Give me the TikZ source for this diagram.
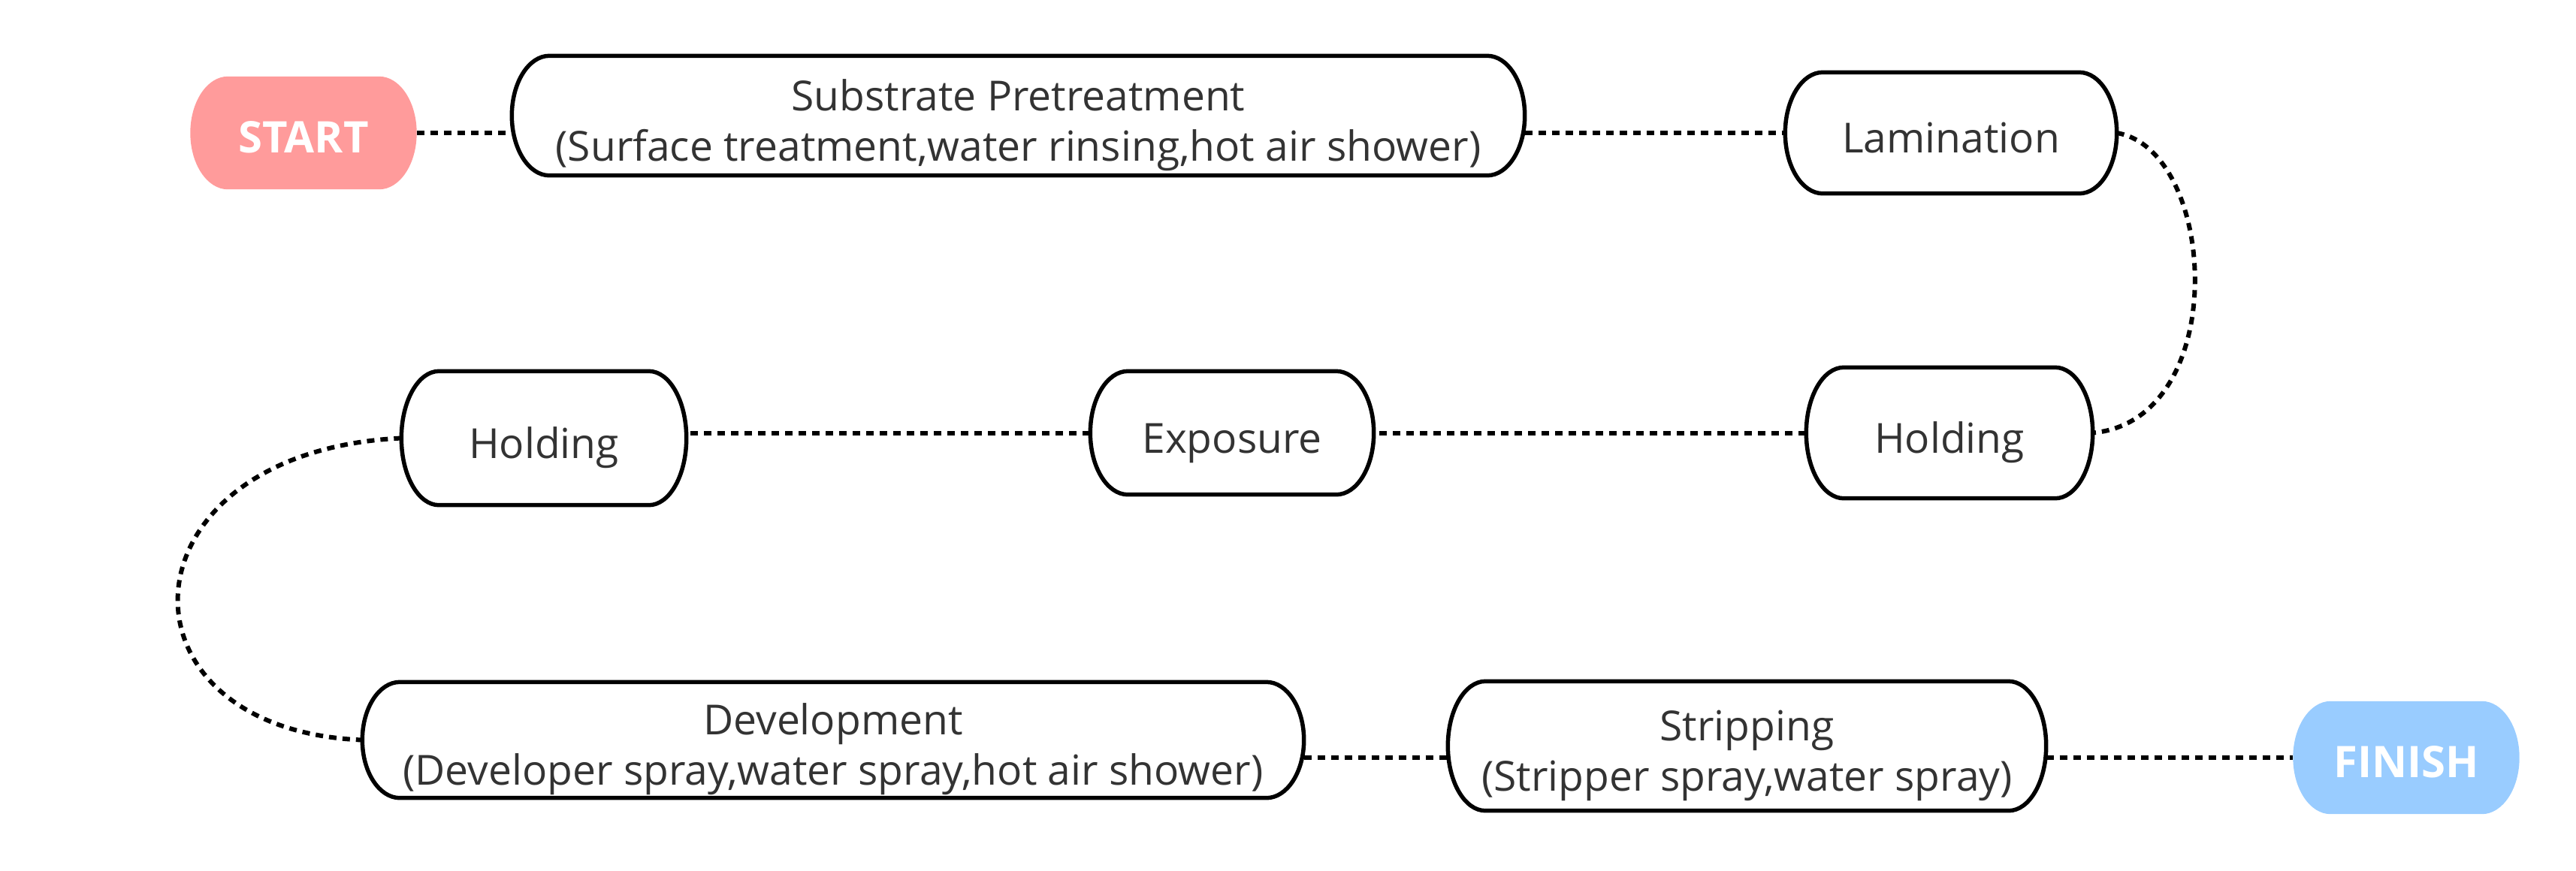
\documentclass[tikz,border=0pt]{standalone}
\usepackage{fontspec}
\setmainfont{Open Sans}
\usepackage{xcolor}
\usetikzlibrary{calc,backgrounds}

\definecolor{startred}{RGB}{255,155,155}
\definecolor{finishblue}{RGB}{153,204,255}

% capsule outline round a node: flat top and bottom, bulging ends
\newcommand{\capsule}[2]{%
  \path[#1] ([xshift=0.5cm]#2.north west) -- ([xshift=-0.5cm]#2.north east)
    .. controls ([xshift=-0.224cm]#2.north east) and ($(#2.east)!0.552!(#2.north east)$) .. (#2.east)
    .. controls ($(#2.east)!0.552!(#2.south east)$) and ([xshift=-0.224cm]#2.south east) .. ([xshift=-0.5cm]#2.south east)
    -- ([xshift=0.5cm]#2.south west)
    .. controls ([xshift=0.224cm]#2.south west) and ($(#2.west)!0.552!(#2.south west)$) .. (#2.west)
    .. controls ($(#2.west)!0.552!(#2.north west)$) and ([xshift=0.224cm]#2.north west) .. cycle;}

\begin{document}
\begin{tikzpicture}[
    stage/.style={inner sep=0pt, align=center, text=black!80,
                  text height=0.53cm, text depth=0cm,
                  font=\fontsize{15.7}{19}\selectfont},
    twoline/.style={text height=1.2cm},
    term/.style={inner sep=0pt, minimum height=1.49cm, minimum width=3cm, text=white,
                 text height=0.52cm, text depth=0cm,
                 font=\fontsize{16.5}{20}\selectfont\bfseries},
    outline/.style={draw=black, line width=0.055cm},
    link/.style={line width=0.06cm, dash pattern=on 0.1cm off 0.08cm}
]
\useasboundingbox (0,0) rectangle (34.29,-11.59);

% Start and finish
\node[term] (start) at (4.04,-1.77) {START};
\node[term] (finish) at (32.03,-10.09) {FINISH};

% Top row
\node[stage, twoline, minimum width=13.47cm, minimum height=1.58cm] (sub) at (13.555,-1.54)
  {Substrate Pretreatment\\(Surface treatment,water rinsing,hot air shower)};
\node[stage, minimum width=4.4cm, minimum height=1.6cm] (lam) at (25.97,-1.77) {Lamination};

% Middle row
\node[stage, minimum width=3.8cm, minimum height=1.73cm] (holdR) at (25.95,-5.765) {Holding};
\node[stage, minimum width=3.76cm, minimum height=1.63cm] (expo) at (16.40,-5.765) {Exposure};
\node[stage, minimum width=3.78cm, minimum height=1.77cm] (holdL) at (7.24,-5.835) {Holding};

% Bottom row
\node[stage, twoline, minimum width=12.52cm, minimum height=1.53cm] (dev) at (11.09,-9.855)
  {Development\\(Developer spray,water spray,hot air shower)};
\node[stage, twoline, minimum width=7.95cm, minimum height=1.71cm] (strip) at (23.255,-9.935)
  {Stripping\\(Stripper spray,water spray)};

% Box shapes
\begin{scope}[on background layer]
  \capsule{fill=startred}{start}
  \capsule{fill=finishblue}{finish}
  \foreach \n in {sub,lam,holdR,expo,holdL,dev,strip}{
    \capsule{outline}{\n}
  }
\end{scope}

% Dotted links
\draw[link] (start.east) -- (start.east -| sub.west);
\draw[link] (lam.west -| sub.east) -- (lam.west);
\draw[link] (lam.east) .. controls +(1.35,-0.23) and +(1.85,0.17) .. (holdR.east);
\draw[link] (holdR.west) -- (expo.east);
\draw[link] (expo.west) -- (expo.west -| holdL.east);
\draw[link] (holdL.west) .. controls +(-3.8,-0.18) and +(-3.43,0.14) .. (dev.west);
\draw[link] (dev.east |- finish.west) -- (strip.west |- finish.west);
\draw[link] (strip.east |- finish.west) -- (finish.west);
\end{tikzpicture}
\end{document}
